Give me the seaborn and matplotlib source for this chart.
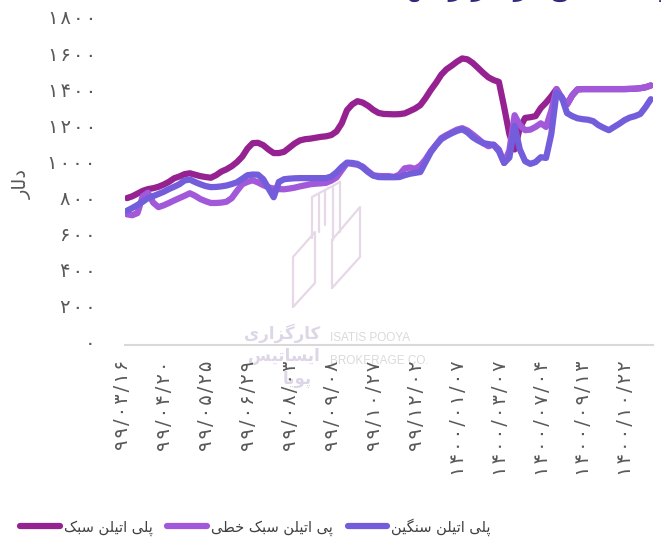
import numpy as np
import pandas as pd
import matplotlib
matplotlib.use("Agg")
import matplotlib.pyplot as plt
import matplotlib.transforms as mtransforms
from matplotlib.lines import Line2D
import seaborn as sns

# ---------------- data ----------------
title_text = "پلی اتیلن در بازار جهانی"
y_label = "دلار"
series_names = ["پلی اتیلن سبک", "پی اتیلن سبک خطی", "پلی اتیلن سنگین"]
series_colors = ["#952290", "#A259D9", "#735DDB"]

tick_labels = ["۹۹/۰۳/۱۶", "۹۹/۰۴/۲۰", "۹۹/۰۵/۲۵", "۹۹/۰۶/۲۹", "۹۹/۰۸/۰۳",
               "۹۹/۰۹/۰۸", "۹۹/۱۰/۲۷", "۹۹/۱۲/۰۲", "۱۴۰۰/۰۱/۰۷", "۱۴۰۰/۰۳/۰۷",
               "۱۴۰۰/۰۷/۰۴", "۱۴۰۰/۰۹/۱۳", "۱۴۰۰/۱۰/۲۲"]
y_ticks = [0, 200, 400, 600, 800, 1000, 1200, 1400, 1600, 1800]

ldpe = [795, 805, 820, 835, 845, 850, 858, 870, 885, 905,
        915, 928, 933, 925, 917, 912, 908, 922, 942, 955,
        972, 995, 1025, 1070, 1100, 1102, 1089, 1065, 1045, 1045,
        1052, 1075, 1098, 1115, 1122, 1125, 1130, 1135, 1138, 1145,
        1165, 1210, 1283, 1315, 1333, 1325, 1308, 1285, 1268, 1262,
        1261, 1260, 1261, 1265, 1278, 1292, 1311, 1350, 1395, 1435,
        1480, 1510, 1530, 1552, 1570, 1565, 1545, 1518, 1490, 1465,
        1450, 1440, 1300, 1150, 1065, 1185, 1240, 1244, 1250, 1295,
        1325, 1360, 1400, 1350, 1315, 1365, 1398, 1400, 1400, 1400,
        1400, 1400, 1400, 1400, 1400, 1400, 1401, 1402, 1405, 1410, 1420]

lldpe = [705, 700, 712, 805, 825, 770, 745, 755, 768, 782,
         795, 808, 822, 808, 790, 778, 768, 768, 770, 775,
         795, 835, 872, 885, 894, 882, 867, 855, 848, 845,
         844, 848, 853, 860, 866, 872, 875, 877, 880, 892,
         910, 950, 989, 985, 980, 970, 945, 922, 918, 917,
         917, 913, 925, 960, 965, 958, 975, 1010, 1055, 1090,
         1128, 1145, 1160, 1175, 1183, 1170, 1148, 1125, 1100, 1083,
         1092, 1065, 990, 1060, 1255, 1200, 1172, 1175, 1190, 1210,
         1190, 1280, 1400, 1350, 1315, 1365, 1398, 1400, 1400, 1400,
         1400, 1400, 1400, 1400, 1400, 1400, 1401, 1402, 1405, 1410, 1420]

hdpe = [725, 740, 757, 775, 795, 806, 818, 830, 845, 858,
        872, 893, 898, 884, 872, 862, 856, 857, 860, 865,
        873, 883, 902, 922, 926, 925, 900, 850, 800, 885,
        900, 903, 905, 906, 906, 906, 906, 906, 906, 915,
        938, 968, 992, 990, 985, 965, 940, 920, 912, 911,
        911, 911, 912, 922, 930, 935, 940, 995, 1050, 1090,
        1122, 1140, 1155, 1168, 1177, 1160, 1133, 1115, 1100, 1095,
        1090, 1055, 990, 1020, 1195, 1065, 1000, 985, 995, 1022,
        1018, 1150, 1380, 1356, 1267, 1250, 1238, 1233, 1230, 1222,
        1200, 1185, 1172, 1190, 1208, 1228, 1242, 1250, 1262, 1300, 1344]

points_per_label = 8

# ------------- Persian shaping helper -------------
FORMS = {
    'ا': ('\uFE8D', '\uFE8E', None, None), 'آ': ('\uFE81', '\uFE82', None, None),
    'ب': ('\uFE8F', '\uFE90', '\uFE91', '\uFE92'), 'پ': ('\uFB56', '\uFB57', '\uFB58', '\uFB59'),
    'ت': ('\uFE95', '\uFE96', '\uFE97', '\uFE98'), 'ج': ('\uFE9D', '\uFE9E', '\uFE9F', '\uFEA0'),
    'خ': ('\uFEA5', '\uFEA6', '\uFEA7', '\uFEA8'), 'د': ('\uFEA9', '\uFEAA', None, None),
    'ر': ('\uFEAD', '\uFEAE', None, None), 'ز': ('\uFEAF', '\uFEB0', None, None),
    'س': ('\uFEB1', '\uFEB2', '\uFEB3', '\uFEB4'), 'ط': ('\uFEC1', '\uFEC2', '\uFEC3', '\uFEC4'),
    'ک': ('\uFB8E', '\uFB8F', '\uFB90', '\uFB91'), 'گ': ('\uFB92', '\uFB93', '\uFB94', '\uFB95'),
    'ل': ('\uFEDD', '\uFEDE', '\uFEDF', '\uFEE0'), 'ن': ('\uFEE5', '\uFEE6', '\uFEE7', '\uFEE8'),
    'ه': ('\uFEE9', '\uFEEA', '\uFEEB', '\uFEEC'), 'و': ('\uFEED', '\uFEEE', None, None),
    'ی': ('\uFBFC', '\uFBFD', '\uFBFE', '\uFBFF'),
}


def fa(text):
    out = []
    n = len(text)
    for k, c in enumerate(text):
        if c not in FORMS:
            out.append(c)
            continue
        iso, fin, ini, med = FORMS[c]
        prev = text[k - 1] if k > 0 else None
        nxt = text[k + 1] if k < n - 1 else None
        jp = prev in FORMS and FORMS[prev][2] is not None
        jn = nxt in FORMS and ini is not None
        if jp and jn:
            out.append(med)
        elif jp:
            out.append(fin)
        elif jn:
            out.append(ini)
        else:
            out.append(iso)
    return ''.join(reversed(out))


def spaced(s):
    # the reference font sets digits loosely; a hair space widens the run
    return '\u200A'.join(s)


def fa_digits(v):
    return str(v).translate(str.maketrans("0123456789", "۰۱۲۳۴۵۶۷۸۹"))


# ---------------- figure ----------------
sns.set_style("white")
plt.rcParams['font.family'] = ['DejaVu Sans']

W, H = 668, 546
fig = plt.figure(figsize=(W / 100, H / 100), dpi=100)
ax = fig.add_axes([125 / W, 1 - 345 / H, 528 / W, 328 / H])
ax.patch.set_visible(False)

names = [fa(s) for s in series_names]
frames = []
for nm, vals in zip(names, [ldpe, lldpe, hdpe]):
    frames.append(pd.DataFrame({"idx": np.arange(len(vals)), "value": vals, "series": nm}))
df = pd.concat(frames, ignore_index=True)

sns.lineplot(data=df, x="idx", y="value", hue="series", hue_order=names,
             palette=series_colors, linewidth=4.5, legend=False,
             estimator=None, sort=False, ax=ax, zorder=3)
for ln in ax.lines:
    ln.set_solid_capstyle("round")
    ln.set_solid_joinstyle("round")

n = len(ldpe)
ax.set_xlim(-0.38, n - 1 + 0.42)
ax.set_ylim(-20, 1800)

tick_color = "#595959"
ax.set_yticks(y_ticks)
ax.set_yticklabels([spaced(fa_digits(v)) for v in y_ticks], fontsize=14, color=tick_color)
xt = np.arange(0, len(tick_labels) * points_per_label, points_per_label)
ax.set_xticks(xt)
ax.set_xticklabels([spaced(t) for t in tick_labels], rotation=90, fontsize=14, color=tick_color)
ax.tick_params(axis="both", length=0)
ax.tick_params(axis="x", pad=11)
ax.tick_params(axis="y", pad=21)
shift = mtransforms.ScaledTranslation(-4 / 100, 0, fig.dpi_scale_trans)
for lbl in ax.get_xticklabels():
    lbl.set_transform(lbl.get_transform() + shift)

for s in ["top", "right", "left"]:
    ax.spines[s].set_visible(False)
ax.spines["bottom"].set_color("#d9d9d9")
ax.spines["bottom"].set_linewidth(1.5)
ax.set_xlabel("")
ax.set_ylabel(fa(y_label), fontsize=14, color=tick_color)
ax.yaxis.set_label_coords(-0.176, 0.49)
ax.grid(False)

# watermark (faint logo + company name)
wm = "#e6d8e6"
def P(px, py):
    return (px / W, 1 - py / H)
logo_shapes = [
    [(293, 307), (293, 257), (315, 232), (315, 283), (293, 307)],
    [(332, 288), (332, 240), (360, 207), (360, 257), (332, 288)],
    [(312, 238), (312, 197), (340, 182)],
    [(318.5, 232), (318.5, 194)], [(325, 225), (325, 190)],
    [(333, 240), (333, 186)], [(340, 232), (340, 182)],
]
for shp in logo_shapes:
    pts = [P(*p) for p in shp]
    ax.add_line(Line2D([p[0] for p in pts], [p[1] for p in pts], color=wm, lw=1.6,
                       transform=fig.transFigure, clip_on=False, zorder=0.5))
wm_txt = "#dcd6e6"
ax.text(320 / W, 1 - 333 / H, fa("کارگزاری"), transform=fig.transFigure, ha="right",
        va="center", fontsize=12, fontweight="bold", color=wm_txt, zorder=0.5)
ax.text(320 / W, 1 - 356 / H, fa("ایساتیس"), transform=fig.transFigure, ha="right",
        va="center", fontsize=12, fontweight="bold", color=wm_txt, zorder=0.5)
ax.text(312 / W, 1 - 379 / H, fa("پویا"), transform=fig.transFigure, ha="right",
        va="center", fontsize=12, fontweight="bold", color=wm_txt, zorder=0.5)
ax.text(330 / W, 1 - 338 / H, "ISATIS POOYA", transform=fig.transFigure, ha="left",
        va="center", fontsize=8.5, family="Liberation Sans",
        color="#dadada", zorder=0.5)
ax.text(330 / W, 1 - 361 / H, "BROKERAGE CO.", transform=fig.transFigure, ha="left",
        va="center", fontsize=8.5, family="Liberation Sans",
        color="#dadada", zorder=0.5)

# clipped title at the very top
fig.text(0.995, 1 + 4 / H, fa(title_text), ha="right", va="baseline", fontsize=18,
         fontweight="bold", color="#2E2B7C")

# legend
handles = [Line2D([], [], color=c, lw=4.5, solid_capstyle="round") for c in series_colors]
fig.legend(handles, names, loc="center left", bbox_to_anchor=(7 / W, 1 - 527 / H),
           ncol=3, frameon=False, fontsize=10.5, handlelength=2.7, handletextpad=0.3,
           columnspacing=1.0, labelcolor="#404040")

fig.savefig("out.png", dpi=100)
